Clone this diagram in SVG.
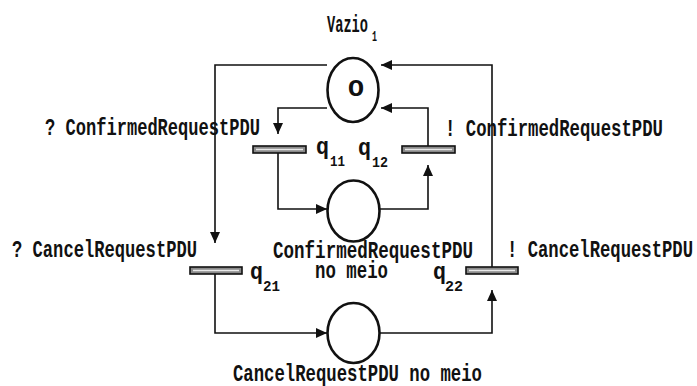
<svg xmlns="http://www.w3.org/2000/svg" width="697" height="386" viewBox="0 0 697 386">
<style>
.ln{fill:none;stroke:#111;stroke-width:1.6}
.pl{fill:none;stroke:#111;stroke-width:2.6}
.bar{fill:#8a8a8a;stroke:#111;stroke-width:1.6}
.barln{stroke:#e8e8e8;stroke-width:1.4}
.t{font-family:"Liberation Mono","DejaVu Sans Mono",monospace;font-size:23px;font-weight:bold;fill:#111}
.s{font-family:"Liberation Mono","DejaVu Sans Mono",monospace;font-size:15px;font-weight:bold;fill:#111}
</style>
<defs>
<marker id="ah" markerUnits="userSpaceOnUse" markerWidth="12" markerHeight="12" refX="11" refY="5" orient="auto">
<path d="M0,0 L11,5 L0,10 Z" fill="#111"/>
</marker>
</defs>
<rect width="697" height="386" fill="#fff"/>
<g id="connectors">
<path class="ln" d="M327,65 H215 V243" marker-end="url(#ah)"/>
<path class="ln" d="M215,274 V333 H327" marker-end="url(#ah)"/>
<path class="ln" d="M380,333 H492 V290" marker-end="url(#ah)"/>
<path class="ln" d="M492,267 V65 H381" marker-end="url(#ah)"/>
<path class="ln" d="M327,108 H278 V134" marker-end="url(#ah)"/>
<path class="ln" d="M278,153 V209 H327" marker-end="url(#ah)"/>
<path class="ln" d="M380,209 H428 V165" marker-end="url(#ah)"/>
<path class="ln" d="M428,146 V108 H381" marker-end="url(#ah)"/>
</g>
<g id="vazio">
<ellipse class="pl" cx="353" cy="90" rx="25.5" ry="32"/>
<text class="t" x="348" y="96" font-size="26" textLength="16" lengthAdjust="spacingAndGlyphs">O</text>
<text class="t" x="327" y="32" textLength="41" lengthAdjust="spacingAndGlyphs">Vazio</text>
<text class="s" x="372" y="41" textLength="5" lengthAdjust="spacingAndGlyphs">1</text>
</g>
<g id="confirmed-meio">
<ellipse class="pl" cx="353.5" cy="211" rx="26" ry="30.5"/>
<text class="t" x="273" y="258" textLength="200" lengthAdjust="spacingAndGlyphs">ConfirmedRequestPDU</text>
<text class="t" x="315" y="278" textLength="73" lengthAdjust="spacingAndGlyphs">no meio</text>
</g>
<g id="cancel-meio">
<ellipse class="pl" cx="353.5" cy="333" rx="26" ry="30"/>
<text class="t" x="233" y="381" textLength="249" lengthAdjust="spacingAndGlyphs">CancelRequestPDU no meio</text>
</g>
<g id="q11">
<rect class="bar" x="253" y="146" width="53" height="7"/>
<line class="barln" x1="256" y1="149.5" x2="303" y2="149.5"/>
<text class="t" x="45" y="135" textLength="215" lengthAdjust="spacingAndGlyphs">? ConfirmedRequestPDU</text>
<text class="t" x="316" y="154" textLength="13" lengthAdjust="spacingAndGlyphs">q</text>
<text class="s" x="330" y="166" textLength="15" lengthAdjust="spacingAndGlyphs">11</text>
</g>
<g id="q12">
<rect class="bar" x="402" y="146" width="53" height="7"/>
<line class="barln" x1="405" y1="149.5" x2="452" y2="149.5"/>
<text class="t" x="445" y="136" textLength="218" lengthAdjust="spacingAndGlyphs">! ConfirmedRequestPDU</text>
<text class="t" x="358" y="155" textLength="13" lengthAdjust="spacingAndGlyphs">q</text>
<text class="s" x="372" y="167" textLength="16" lengthAdjust="spacingAndGlyphs">12</text>
</g>
<g id="q21">
<rect class="bar" x="190" y="267" width="52" height="7"/>
<line class="barln" x1="193" y1="270.5" x2="239" y2="270.5"/>
<text class="t" x="12" y="257" textLength="185" lengthAdjust="spacingAndGlyphs">? CancelRequestPDU</text>
<text class="t" x="250" y="279" textLength="13" lengthAdjust="spacingAndGlyphs">q</text>
<text class="s" x="263" y="291" textLength="17" lengthAdjust="spacingAndGlyphs">21</text>
</g>
<g id="q22">
<rect class="bar" x="466" y="267" width="52" height="7"/>
<line class="barln" x1="469" y1="270.5" x2="515" y2="270.5"/>
<text class="t" x="507" y="257" textLength="186" lengthAdjust="spacingAndGlyphs">! CancelRequestPDU</text>
<text class="t" x="433" y="279" textLength="13" lengthAdjust="spacingAndGlyphs">q</text>
<text class="s" x="445" y="291" textLength="18" lengthAdjust="spacingAndGlyphs">22</text>
</g>
</svg>
